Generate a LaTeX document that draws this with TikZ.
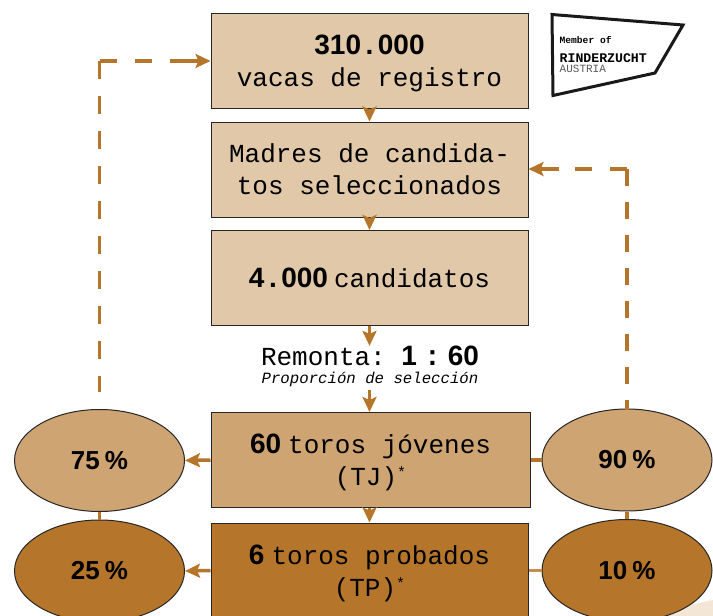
\documentclass[tikz,border=0pt]{standalone}
\usepackage{fontspec}
\setmainfont{Liberation Sans}
\setmonofont{Liberation Mono}
\usetikzlibrary{calc}
\usetikzlibrary{arrows.meta}
\usetikzlibrary{shapes.geometric}
\definecolor{braun}{HTML}{B5762B}
\definecolor{hell}{HTML}{E0C8A9}
\definecolor{mittel}{HTML}{CFA473}
\definecolor{blass}{HTML}{F3E6D5}
\tikzset{
    kiste/.style={draw=black!85, line width=1pt, minimum width=317pt, minimum height=95pt, inner sep=0pt, align=center, font=\fontsize{26}{32}\selectfont\ttfamily},
    oval/.style={draw=black!85, line width=1pt, minimum width=170pt, minimum height=102pt, inner sep=0pt, ellipse, font=\fontsize{26}{31}\selectfont\bfseries},
    pfeil/.style={draw=braun, line width=3.5pt, -{Stealth[length=15pt, width=14pt, inset=3pt]}},
    strichh/.style={draw=braun, line width=3.6pt, dash pattern=on 17.5pt off 17.5pt},
    strichv/.style={draw=braun, line width=3.6pt, dash pattern=on 17pt off 16pt},
    stummel/.style={draw=braun, line width=3.6pt}
}
\newcommand{\zahlfett}[1]{{\fontsize{28}{31}\selectfont\rmfamily\bfseries #1}}
\newcommand{\punkt}{{\ttfamily.}}
\newcommand{\stern}{\raisebox{8pt}{\fontsize{15}{15}\selectfont *}}
\newcommand{\oben}{\rule{0pt}{25pt}}
\begin{document}
\begin{tikzpicture}[x=1pt, y=-1pt]
        \useasboundingbox (0,0) rectangle (713,616);
        %HINTERGRUND
        \fill[blass] (713,600) -- (713,616) -- (640,616) -- cycle;
        %KOORDINAT
        \coordinate (linksoben) at (99.5,61);
        \coordinate (rechtsoben) at (627,169);
        \coordinate (linksende) at (99.5,392);
        \coordinate (rechtsende) at (627,410);
        %KISTEN
        \node[kiste, fill=hell] (vacas) at (369.5,61) {\oben\zahlfett{310\punkt 000}\\vacas de registro};
        \node[kiste, fill=hell] (madres) at (369.5,169.5) {Madres de candida-\\tos seleccionados};
        \node[kiste, fill=hell] (cand) at (369.5,278) {\zahlfett{4\punkt 000}\hspace{6pt}candidatos};
        \node[kiste, fill=mittel, minimum width=319pt] (tj) at (370.5,460) {\oben\zahlfett{60}\hspace{7pt}toros jóvenes\\(TJ)\stern};
        \node[kiste, fill=braun] (tp) at (369.5,570.5) {\oben\zahlfett{6}\hspace{7pt}toros probados\\(TP)\stern};
        %REMONTA
        \node[font=\fontsize{26}{28}\selectfont\ttfamily, inner sep=0pt] (remonta) at (370,356) {Remonta: \zahlfett{1\hspace{7pt}{\ttfamily:}\hspace{7pt}60}};
        \node[font=\fontsize{15.7}{17}\selectfont\ttfamily\itshape, inner sep=0pt] (prop) at (370,379) {Proporción de selección};
        %OVALE
        \node[oval, fill=mittel] (a) at (99.5,460.5) {75\hspace{5pt}\%};
        \node[oval, fill=braun] (b) at (99.5,571) {25\hspace{5pt}\%};
        \node[oval, fill=mittel] (c) at (627,460) {90\hspace{5pt}\%};
        \node[oval, fill=braun] (d) at (627,570.5) {10\hspace{5pt}\%};
        %PFEILE
        \draw[pfeil] (vacas.south) -- (madres.north);
        \draw[pfeil] (madres.south) -- (cand.north);
        \draw[pfeil] (cand.south) -- (remonta.north -| cand.south);
        \draw[pfeil] ($(prop.south -| cand.south)+(0,3)$) -- (tj.north -| cand.south);
        \draw[pfeil] (tj.south -| tp.north) -- (tp.north);
        \draw[pfeil] (tj.west) -- (a.east);
        \draw[pfeil] (tp.west) -- (b.east);
        \draw[stummel] (tj.east) -- (c.west);
        \draw[stummel, draw=braun!70!hell] (tp.east) -- (d.west);
        \draw[stummel] (a.south) -- (b.north);
        \draw[stummel] (c.south) -- (d.north);
        %GESTRICHELT
        \draw[strichh] (linksoben) -- (linksende);
        \draw[strichh] (linksoben) -- (187,61);
        \draw[pfeil] (187,61) -- (vacas.west);
        \draw[strichv] (rechtsoben) -- (rechtsende);
        \draw[strichh] (rechtsoben) -- (559,169);
        \draw[pfeil] (559,169) -- (madres.east |- rechtsoben);
        %LOGO
        \draw[line width=3pt, line join=miter, draw=black!90, fill=white] (552,14.5) coordinate (l1) -- (683,25) coordinate (l2) -- (655,73) coordinate (l3) -- (553,95.5) coordinate (l4) -- cycle;
        \node[font=\fontsize{9.6}{10}\selectfont\ttfamily\bfseries, anchor=west, inner sep=0pt] (member) at (559.5,40) {Member of};
        \node[font=\fontsize{13.2}{14}\selectfont\ttfamily\bfseries, anchor=west, inner sep=0pt] (rind) at (559.5,58) {RINDERZUCHT};
        \node[font=\fontsize{11}{12}\selectfont\ttfamily, text=black!65, anchor=west, inner sep=0pt] (aut) at (559.5,69) {AUSTRIA};
    \end{tikzpicture}
\end{document}
